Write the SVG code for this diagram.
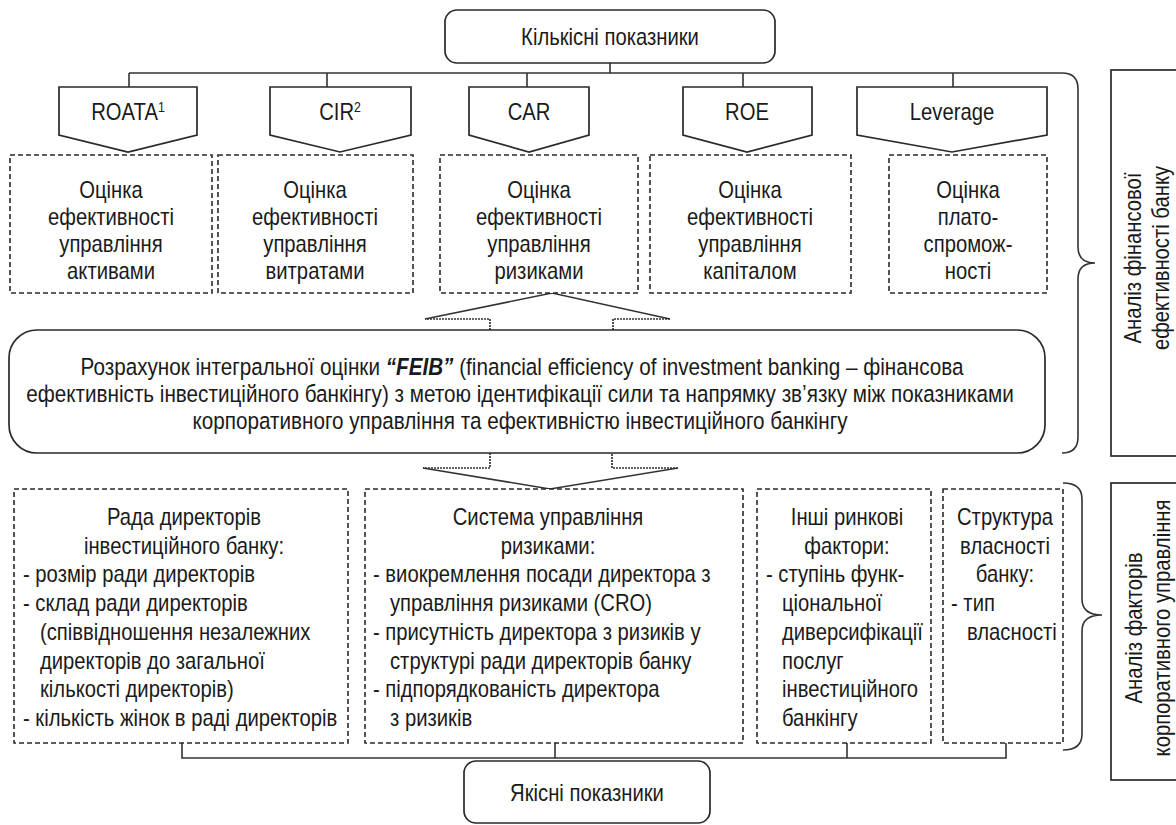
<svg xmlns="http://www.w3.org/2000/svg" width="1176" height="825" viewBox="0 0 1176 825">
<style>
text { font-family: "Liberation Sans", Arial, sans-serif; font-size: 23px; fill: #1a1a1a; }
.c { text-anchor: middle; }
.big { font-size: 23.5px; }
.solid { fill: #fff; stroke: #2a2a2a; stroke-width: 1.7; }
.dash { fill: #fff; stroke: #2a2a2a; stroke-width: 1.6; stroke-dasharray: 5 3; }
.ln { fill: none; stroke: #333; stroke-width: 1.6; }
.dl { fill: none; stroke: #333; stroke-width: 1.7; stroke-dasharray: 2 1; }
.bi { font-weight: bold; font-style: italic; }
</style>
<rect width="1176" height="825" fill="#fff"/>

<g id="connectors">
  <path class="ln" d="M610,63 V73 M129,73 H1062 M129,73 V87 M327,73 V87 M527,73 V87 M743,73 V87 M953,73 V87"/>
  <path class="ln" d="M182,743 V758 H1006 V743 M555,743 V758 M847,743 V758"/>
  <path class="ln" d="M425,319 L552,293 L670,319"/>
  <path class="dl" d="M490,330 V319 H425 M670,319 H613 V330"/>
  <path class="ln" d="M423,468 L550,489 L678,468"/>
  <path class="dl" d="M490,453 V468 H423 M678,468 H612 V453"/>
</g>

<g id="braces">
  <path class="ln" d="M1062,73 Q1078,73 1078,89 V247 Q1078,263 1095,263 Q1078,263 1078,279 V437 Q1078,453 1062,453"/>
  <path class="ln" d="M1063,483 Q1082,483 1082,499 V599 Q1082,615 1102,615 Q1082,615 1082,631 V734 Q1082,750 1063,750"/>
</g>

<g id="top">
  <rect class="solid" x="445" y="10" width="330" height="53" rx="12"/>
  <text class="c" transform="translate(610,45) scale(.88,1)">Кількісні показники</text>
</g>

<g id="roata">
  <path class="solid" d="M59,87 H197 V135 L128,152 L59,135 Z"/>
  <text class="c" transform="translate(128,120) scale(.88,1)">ROATA<tspan font-size="14" dy="-8">1</tspan></text>
</g>
<g id="cir">
  <path class="solid" d="M270,87 H411 V135 L340,152 L270,135 Z"/>
  <text class="c" transform="translate(340,120) scale(.88,1)">CIR<tspan font-size="14" dy="-8">2</tspan></text>
</g>
<g id="car">
  <path class="solid" d="M469,87 H589 V135 L529,152 L469,135 Z"/>
  <text class="c" transform="translate(529,120) scale(.88,1)">CAR</text>
</g>
<g id="roe">
  <path class="solid" d="M683,87 H812 V135 L747,152 L683,135 Z"/>
  <text class="c" transform="translate(747,120) scale(.88,1)">ROE</text>
</g>
<g id="leverage">
  <path class="solid" d="M857,87 H1047 V135 L952,152 L857,135 Z"/>
  <text class="c" transform="translate(952,120) scale(.88,1)">Leverage</text>
</g>

<g id="e1">
  <rect class="dash" x="10" y="155" width="202" height="138"/>
  <text class="c" transform="translate(111,198) scale(.88,1)">Оцінка</text>
  <text class="c" transform="translate(111,225) scale(.88,1)">ефективності</text>
  <text class="c" transform="translate(111,252) scale(.88,1)">управління</text>
  <text class="c" transform="translate(111,279) scale(.88,1)">активами</text>
</g>
<g id="e2">
  <rect class="dash" x="218" y="155" width="195" height="138"/>
  <text class="c" transform="translate(315,198) scale(.88,1)">Оцінка</text>
  <text class="c" transform="translate(315,225) scale(.88,1)">ефективності</text>
  <text class="c" transform="translate(315,252) scale(.88,1)">управління</text>
  <text class="c" transform="translate(315,279) scale(.88,1)">витратами</text>
</g>
<g id="e3">
  <rect class="dash" x="440" y="155" width="198" height="138"/>
  <text class="c" transform="translate(539,198) scale(.88,1)">Оцінка</text>
  <text class="c" transform="translate(539,225) scale(.88,1)">ефективності</text>
  <text class="c" transform="translate(539,252) scale(.88,1)">управління</text>
  <text class="c" transform="translate(539,279) scale(.88,1)">ризиками</text>
</g>
<g id="e4">
  <rect class="dash" x="650" y="155" width="201" height="138"/>
  <text class="c" transform="translate(750,198) scale(.88,1)">Оцінка</text>
  <text class="c" transform="translate(750,225) scale(.88,1)">ефективності</text>
  <text class="c" transform="translate(750,252) scale(.88,1)">управління</text>
  <text class="c" transform="translate(750,279) scale(.88,1)">капіталом</text>
</g>
<g id="e5">
  <rect class="dash" x="889" y="155" width="158" height="138"/>
  <text class="c" transform="translate(968,198) scale(.88,1)">Оцінка</text>
  <text class="c" transform="translate(968,225) scale(.88,1)">плато-</text>
  <text class="c" transform="translate(968,252) scale(.88,1)">спромож-</text>
  <text class="c" transform="translate(968,279) scale(.88,1)">ності</text>
</g>

<g id="feib">
  <rect class="solid" x="9" y="330" width="1036" height="123" rx="28"/>
  <text class="c big" transform="translate(522,375) scale(.88,1)">Розрахунок інтегральної оцінки <tspan class="bi">“FEIB”</tspan> (financial efficiency of investment banking – фінансова</text>
  <text class="c big" transform="translate(520,402) scale(.88,1)">ефективність інвестиційного банкінгу) з метою ідентифікації сили та напрямку зв’язку між показниками</text>
  <text class="c big" transform="translate(520,429) scale(.88,1)">корпоративного управління та ефективністю інвестиційного банкінгу</text>
</g>

<g id="board">
  <rect class="dash" x="14" y="489" width="334" height="254"/>
  <text class="c" transform="translate(184,525) scale(.88,1)">Рада директорів</text>
  <text class="c" transform="translate(184,554) scale(.88,1)">інвестиційного банку:</text>
  <text transform="translate(23,582) scale(.88,1)">- розмір ради директорів</text>
  <text transform="translate(23,611) scale(.88,1)">- склад ради директорів</text>
  <text transform="translate(40,640) scale(.88,1)">(співвідношення незалежних</text>
  <text transform="translate(40,669) scale(.88,1)">директорів до загальної</text>
  <text transform="translate(40,697) scale(.88,1)">кількості директорів)</text>
  <text transform="translate(23,726) scale(.88,1)">- кількість жінок в раді директорів</text>
</g>
<g id="risk">
  <rect class="dash" x="365" y="489" width="378" height="254"/>
  <text class="c" transform="translate(548,525) scale(.88,1)">Система управління</text>
  <text class="c" transform="translate(548,554) scale(.88,1)">ризиками:</text>
  <text transform="translate(373,582) scale(.88,1)">- виокремлення посади директора з</text>
  <text transform="translate(390,611) scale(.88,1)">управління ризиками (CRO)</text>
  <text transform="translate(373,640) scale(.88,1)">- присутність директора з ризиків у</text>
  <text transform="translate(390,669) scale(.88,1)">структурі ради директорів банку</text>
  <text transform="translate(373,697) scale(.88,1)">- підпорядкованість директора</text>
  <text transform="translate(390,726) scale(.88,1)">з ризиків</text>
</g>
<g id="market">
  <rect class="dash" x="757" y="489" width="174" height="254"/>
  <text class="c" transform="translate(847,525) scale(.88,1)">Інші ринкові</text>
  <text class="c" transform="translate(847,554) scale(.88,1)">фактори:</text>
  <text transform="translate(766,582) scale(.88,1)">- ступінь функ-</text>
  <text transform="translate(782,611) scale(.88,1)">ціональної</text>
  <text transform="translate(782,640) scale(.88,1)">диверсифікації</text>
  <text transform="translate(782,669) scale(.88,1)">послуг</text>
  <text transform="translate(782,697) scale(.88,1)">інвестиційного</text>
  <text transform="translate(782,726) scale(.88,1)">банкінгу</text>
</g>
<g id="ownership">
  <rect class="dash" x="943" y="489" width="120" height="254"/>
  <text class="c" transform="translate(1005,525) scale(.88,1)">Структура</text>
  <text class="c" transform="translate(1005,554) scale(.88,1)">власності</text>
  <text class="c" transform="translate(1005,582) scale(.88,1)">банку:</text>
  <text transform="translate(951,611) scale(.88,1)">- тип</text>
  <text transform="translate(967,640) scale(.88,1)">власності</text>
</g>

<g id="bottom">
  <rect class="solid" x="464" y="761" width="246" height="62" rx="12"/>
  <text class="c" transform="translate(587,801) scale(.88,1)">Якісні показники</text>
</g>

<g id="label-fin">
  <rect class="solid" x="1111" y="70" width="80" height="386"/>
  <text class="c" transform="translate(1141,258) rotate(-90) scale(.88,1)">Аналіз фінансової</text>
  <text class="c" transform="translate(1169,258) rotate(-90) scale(.88,1)">ефективності банку</text>
</g>
<g id="label-corp">
  <rect class="solid" x="1111" y="483" width="80" height="297"/>
  <text class="c" transform="translate(1142,628) rotate(-90) scale(.88,1)">Аналіз факторів</text>
  <text class="c" transform="translate(1170,628) rotate(-90) scale(.88,1)">корпоративного управління</text>
</g>
</svg>
